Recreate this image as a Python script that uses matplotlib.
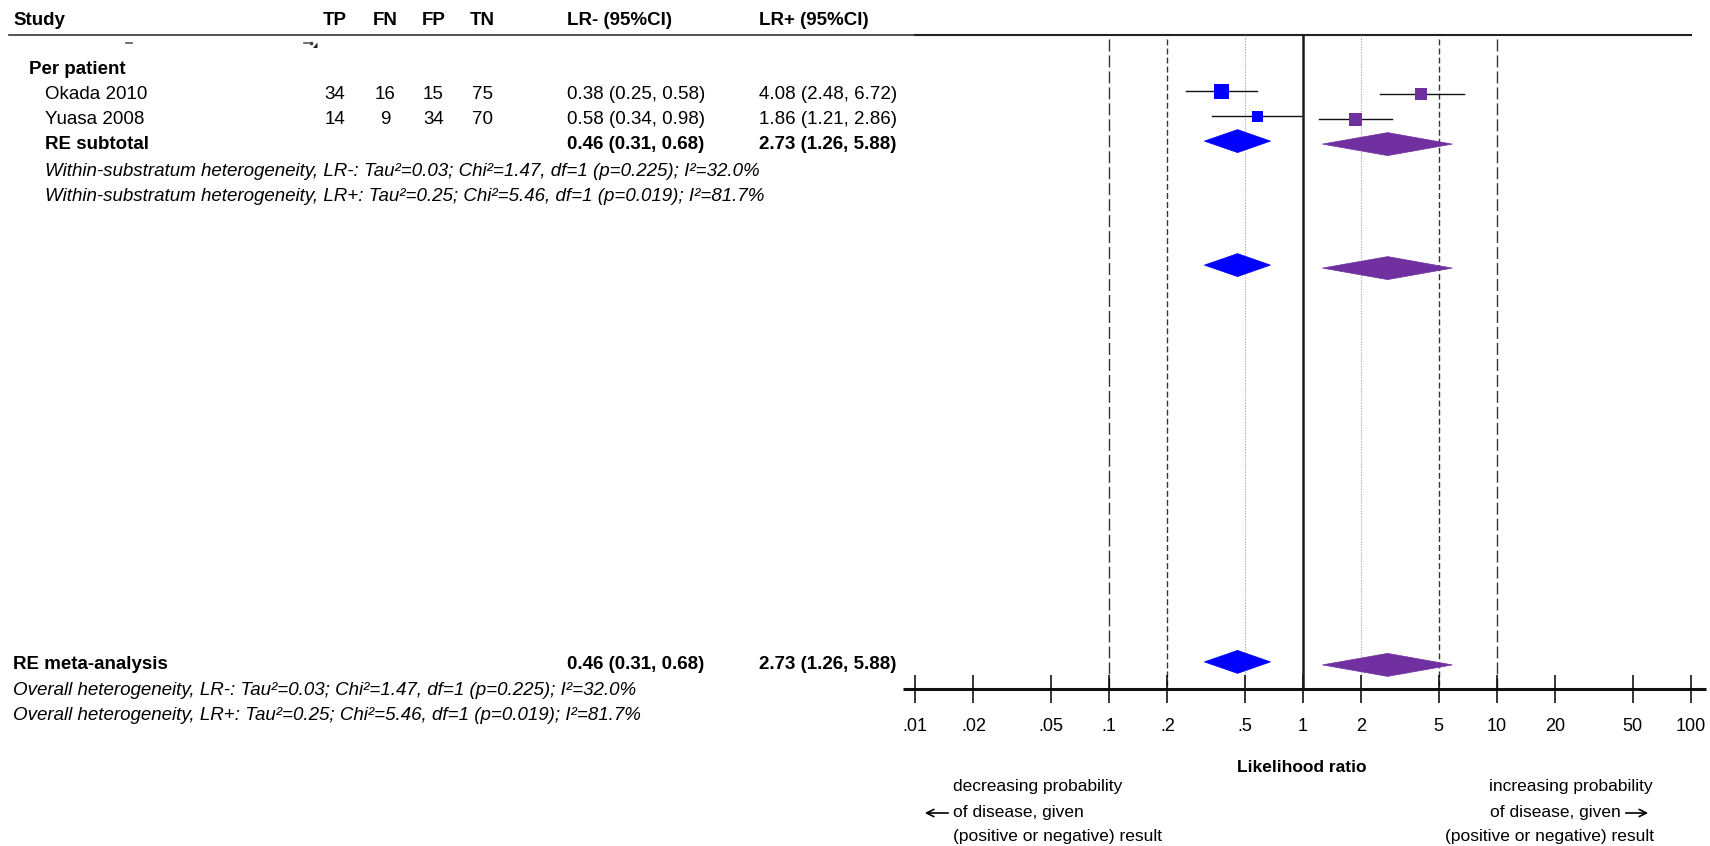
import matplotlib
matplotlib.use("Agg")
import matplotlib.pyplot as plt
from matplotlib.patches import Polygon
from matplotlib.ticker import NullLocator

plt.rcParams['font.family'] = ['Liberation Sans', 'DejaVu Sans']
plt.rcParams['lines.scale_dashes'] = False

# ---------------------------------------------------------------- data
studies = ["Okada 2010", "Yuasa 2008"]
tp = [34, 14]
fn = [16, 9]
fp = [15, 34]
tn = [75, 70]

lr_neg = [0.38, 0.58]
lr_neg_lo = [0.25, 0.34]
lr_neg_hi = [0.58, 0.98]

lr_pos = [4.08, 1.86]
lr_pos_lo = [2.48, 1.21]
lr_pos_hi = [6.72, 2.86]

pooled_neg = [0.46, 0.31, 0.68]
pooled_pos = [2.73, 1.26, 5.88]

het_neg = {"tau2": "0.03", "chi2": "1.47", "df": 1, "p": "0.225", "i2": "32.0"}
het_pos = {"tau2": "0.25", "chi2": "5.46", "df": 1, "p": "0.019", "i2": "81.7"}

tick_values = [0.01, 0.02, 0.05, 0.1, 0.2, 0.5, 1, 2, 5, 10, 20, 50, 100]
tick_labels = [".01", ".02", ".05", ".1", ".2", ".5", "1", "2", "5", "10", "20", "50", "100"]

# ---------------------------------------------------------------- layout (pixels)
W, H, DPI = 1710, 846, 100
ROW0, PITCH = 93.0, 24.8          # first study row, row pitch
TXT_DY = 1.5                      # text sits slightly below the mark centre line
X_LO, X_HI = 915, 1691            # pixel span of .01 .. 100
AX_Y, TOP_Y = 689, 35.5           # x-axis line, top rule

BLUE = "#0000FF"
PURPLE = "#7030A0"
box_px_neg = [15, 11]
box_px_pos = [12, 13]
DIAMOND_H = 23

FS = 13.5        # table text
FS_TICK = 13
FS_NOTE = 12.5


def row_y(i):
    return ROW0 + i * PITCH


fig = plt.figure(figsize=(W / DPI, H / DPI), dpi=DPI)
fig.patch.set_facecolor("white")

bg = fig.add_axes([0, 0, 1, 1])
bg.set_xlim(0, W)
bg.set_ylim(H, 0)
bg.axis("off")

ax = fig.add_axes([X_LO / W, (H - AX_Y) / H, (X_HI - X_LO) / W, (AX_Y - TOP_Y) / H])
ax.set_xscale("log")
ax.set_xlim(tick_values[0], tick_values[-1])
ax.set_ylim(AX_Y, TOP_Y)
ax.patch.set_alpha(0)
for s in ax.spines.values():
    s.set_visible(False)
ax.set_yticks([])
ax.set_xticks(tick_values)
ax.set_xticklabels(tick_labels)
ax.xaxis.set_minor_locator(NullLocator())
ax.tick_params(axis="x", direction="inout", length=19.5, width=1.1, pad=11,
               labelsize=FS_TICK, colors="black")

# ---------------------------------------------------------------- table
col_x = {"TP": 335, "FN": 385, "FP": 433.5, "TN": 482}
X_NEG, X_POS = 567, 759


def txt(x, y, s, **kw):
    kw.setdefault("fontsize", FS)
    kw.setdefault("va", "center")
    bg.text(x, y + TXT_DY, s, color="black", **kw)


hy = row_y(-3)
txt(13, hy, "Study", fontweight="bold")
for k, x in col_x.items():
    txt(x, hy, k, ha="center", fontweight="bold")
txt(X_NEG, hy, "LR- (95%CI)", fontweight="bold")
txt(X_POS, hy, "LR+ (95%CI)", fontweight="bold")
bg.plot([9, X_LO], [TOP_Y - 0.5, TOP_Y - 0.5], color="#333333", lw=1.2)
bg.plot([X_LO, X_HI], [TOP_Y, TOP_Y], color="#222222", lw=1.5)

# fragments of a clipped row just under the header rule
bg.plot([126, 132], [43.5, 43.5], color="#555555", lw=1.2)
bg.plot([304, 309], [43, 43], color="#555555", lw=1.2)
bg.plot([311], [43.5], marker="s", ms=1.5, color="#444444")
bg.add_patch(Polygon([[313, 48], [317.5, 42.5], [317.5, 48]], closed=True,
                     color="#222222", lw=0))

txt(29, row_y(-1), "Per patient", fontweight="bold")


def ci_text(v):
    return f"{v[0]:.2f} ({v[1]:.2f}, {v[2]:.2f})"


for i, name in enumerate(studies):
    y = row_y(i)
    txt(45, y, name)
    txt(col_x["TP"], y, str(tp[i]), ha="center")
    txt(col_x["FN"], y, str(fn[i]), ha="center")
    txt(col_x["FP"], y, str(fp[i]), ha="center")
    txt(col_x["TN"], y, str(tn[i]), ha="center")
    txt(X_NEG, y, ci_text([lr_neg[i], lr_neg_lo[i], lr_neg_hi[i]]))
    txt(X_POS, y, ci_text([lr_pos[i], lr_pos_lo[i], lr_pos_hi[i]]))


def het_text(prefix, tag, h):
    return (f"{prefix}, {tag}: Tau\u00b2={h['tau2']}; Chi\u00b2={h['chi2']}, "
            f"df={h['df']} (p={h['p']}); I\u00b2={h['i2']}%")


txt(45, row_y(2), "RE subtotal", fontweight="bold")
txt(X_NEG, row_y(2), ci_text(pooled_neg), fontweight="bold")
txt(X_POS, row_y(2), ci_text(pooled_pos), fontweight="bold")
txt(45, row_y(3) + 2.5, het_text("Within-substratum heterogeneity", "LR-", het_neg), style="italic")
txt(45, row_y(4) + 2.5, het_text("Within-substratum heterogeneity", "LR+", het_pos), style="italic")

txt(13, row_y(23), "RE meta-analysis", fontweight="bold")
txt(X_NEG, row_y(23), ci_text(pooled_neg), fontweight="bold")
txt(X_POS, row_y(23), ci_text(pooled_pos), fontweight="bold")
txt(13, row_y(24) + 1, het_text("Overall heterogeneity", "LR-", het_neg), style="italic")
txt(13, row_y(25) + 1, het_text("Overall heterogeneity", "LR+", het_pos), style="italic")

# ---------------------------------------------------------------- reference lines
ax.plot([1, 1], [TOP_Y, AX_Y], color="#1a1a1a", lw=1.8, solid_capstyle="butt", zorder=2)
for v in (0.1, 10):
    ax.plot([v, v], [39.5, AX_Y], color="#333333", lw=1.0, dashes=(8.6, 2.9), zorder=1)
for v in (0.2, 5):
    ax.plot([v, v], [39.5, AX_Y], color="#333333", lw=1.0, dashes=(4.3, 2.2), zorder=1)
for v in (0.5, 2):
    ax.plot([v, v], [TOP_Y, AX_Y], color="#b8b8b8", lw=0.8, dashes=(1.2, 0.8), zorder=1)

bg.plot([903, 1706], [AX_Y, AX_Y], color="#111111", lw=2.2, solid_capstyle="butt")

# ---------------------------------------------------------------- study estimates
for i in range(len(studies)):
    yb = row_y(i) - 1.5
    yp = row_y(i) + 1.5
    ax.plot([lr_neg_lo[i], lr_neg_hi[i]], [yb, yb], color="#111111", lw=1.0, zorder=3)
    ax.plot([lr_neg[i]], [yb], marker="s", ms=box_px_neg[i] * 0.72,
            color=BLUE, mew=0, zorder=4)
    ax.plot([lr_pos_lo[i], lr_pos_hi[i]], [yp, yp], color="#111111", lw=1.0, zorder=3)
    ax.plot([lr_pos[i]], [yp], marker="s", ms=box_px_pos[i] * 0.72,
            color=PURPLE, mew=0, zorder=4)


def diamond(est, lo, hi, y, color):
    h = DIAMOND_H / 2
    ax.add_patch(Polygon([[lo, y], [est, y - h], [hi, y], [est, y + h]],
                         closed=True, facecolor=color, edgecolor=color, lw=0.5, zorder=4))


for r in (2, 7, 23):
    diamond(*pooled_neg, row_y(r) - 1.5, BLUE)
    diamond(*pooled_pos, row_y(r) + 1.5, PURPLE)

# ---------------------------------------------------------------- axis captions
bg.text(1302, 767, "Likelihood ratio", ha="center", va="center",
        fontsize=12.5, fontweight="bold")

note_y = [787, 812, 836]
bg.text(953, note_y[0], "decreasing probability", va="center", fontsize=FS_NOTE)
bg.text(953, note_y[1], "of disease, given", va="center", fontsize=FS_NOTE)
bg.text(953, note_y[2], "(positive or negative) result", va="center", fontsize=FS_NOTE)
bg.annotate("", xy=(922, note_y[1] + 1), xytext=(951, note_y[1] + 1),
            arrowprops=dict(arrowstyle="->", color="black", lw=1.2, mutation_scale=13))

bg.text(1653, note_y[0], "increasing probability", ha="right", va="center", fontsize=FS_NOTE)
bg.text(1621, note_y[1], "of disease, given", ha="right", va="center", fontsize=FS_NOTE)
bg.text(1654, note_y[2], "(positive or negative) result", ha="right", va="center", fontsize=FS_NOTE)
bg.annotate("", xy=(1651, note_y[1] + 1), xytext=(1623, note_y[1] + 1),
            arrowprops=dict(arrowstyle="->", color="black", lw=1.2, mutation_scale=13))

fig.savefig("out.png", dpi=DPI, facecolor="white")
